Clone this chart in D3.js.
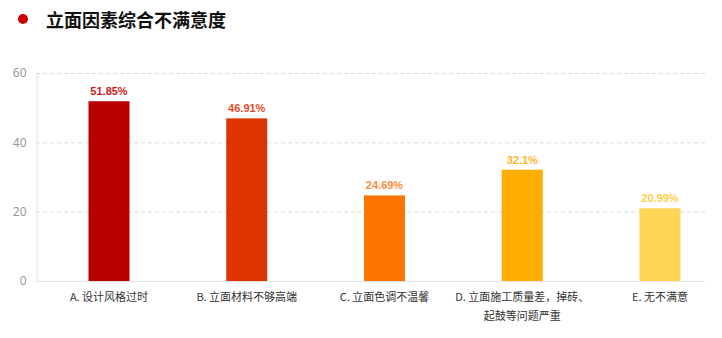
<!DOCTYPE html>
<html>
<head>
<meta charset="utf-8">
<script src="https://cdn.jsdelivr.net/npm/d3@7"></script>
<style>
  html, body { margin: 0; padding: 0; background: #fff; }
  svg { display: block; font-family: "Microsoft YaHei", "Noto Sans CJK SC", sans-serif; }
</style>
</head>
<body>
<svg id="chart" width="722" height="338"></svg>
<script>
// Facade dissatisfaction survey data
const categories = [
  "A. 设计风格过时",
  "B. 立面材料不够高端",
  "C. 立面色调不温馨",
  "D. 立面施工质量差，掉砖、\n起鼓等问题严重",
  "E. 无不满意"
];
const values = [51.85, 46.91, 24.69, 32.1, 20.99];
const valueLabels = ["51.85%", "46.91%", "24.69%", "32.1%", "20.99%"];
const barColors = ["#b80000", "#dd3300", "#ff7300", "#ffad00", "#ffd555"];
const labelColors = ["#cc1a1a", "#e34a2a", "#ff8a40", "#ffb52a", "#ffd04a"];
const yTicks = [0, 20, 40, 60];
const title = "立面因素综合不满意度";

const svg = d3.select("#chart");

// Title with a red bullet
svg.append("circle").attr("cx", 23).attr("cy", 19).attr("r", 5).attr("fill", "#cc0000");
svg.append("text")
  .attr("x", 46).attr("y", 27)
  .attr("font-size", 18).attr("font-weight", "bold").attr("fill", "#111")
  .text(title);

const plot = { left: 36, right: 705, top: 73, bottom: 281 };

const y = d3.scaleLinear().domain([0, 60]).range([plot.bottom, plot.top]);
const x = d3.scalePoint().domain(categories).range([109, 660]);
const barWidth = 41;

// Dashed horizontal grid lines
svg.append("g")
  .selectAll("line")
  .data(yTicks.filter(t => t > 0))
  .join("line")
  .attr("x1", plot.left).attr("x2", plot.right)
  .attr("y1", d => y(d) + 0.5).attr("y2", d => y(d) + 0.5)
  .attr("stroke", "#dcdcdc").attr("stroke-dasharray", "4,3");

// Y axis
const yAxis = d3.axisLeft(y).tickValues(yTicks).tickSize(0).tickPadding(10);
const gy = svg.append("g").attr("transform", `translate(${plot.left + 0.5},0)`).call(yAxis);
gy.select(".domain").attr("stroke", "#e3e3e3");
gy.selectAll("text")
  .attr("fill", "#999").attr("font-size", 12)
  .attr("font-family", "'Microsoft YaHei', 'Noto Sans', sans-serif");

// X axis baseline
svg.append("line")
  .attr("x1", plot.left).attr("x2", plot.right)
  .attr("y1", plot.bottom + 0.5).attr("y2", plot.bottom + 0.5)
  .attr("stroke", "#e3e3e3");

// Bars
svg.append("g")
  .selectAll("rect")
  .data(values)
  .join("rect")
  .attr("x", (d, i) => x(categories[i]) - barWidth / 2)
  .attr("y", d => y(d))
  .attr("width", barWidth)
  .attr("height", d => y(0) - y(d))
  .attr("fill", (d, i) => barColors[i]);

// Value labels above bars
svg.append("g")
  .selectAll("text")
  .data(values)
  .join("text")
  .attr("x", (d, i) => x(categories[i]))
  .attr("y", d => y(d) - 6)
  .attr("text-anchor", "middle")
  .attr("font-size", 11).attr("font-weight", "bold")
  .attr("font-family", "Arial, 'Liberation Sans', sans-serif")
  .attr("fill", (d, i) => labelColors[i])
  .text((d, i) => valueLabels[i]);

// Category labels (may wrap onto two lines)
const xl = svg.append("g")
  .selectAll("text")
  .data(categories)
  .join("text")
  .attr("x", d => x(d))
  .attr("y", plot.bottom + 20)
  .attr("text-anchor", "middle")
  .attr("font-size", 11).attr("fill", "#333");
xl.each(function(d) {
  const lines = d.split("\n");
  const t = d3.select(this);
  lines.forEach((ln, k) => {
    t.append("tspan").attr("x", x(d)).attr("dy", k === 0 ? 0 : 19).text(ln);
  });
});
</script>
</body>
</html>
